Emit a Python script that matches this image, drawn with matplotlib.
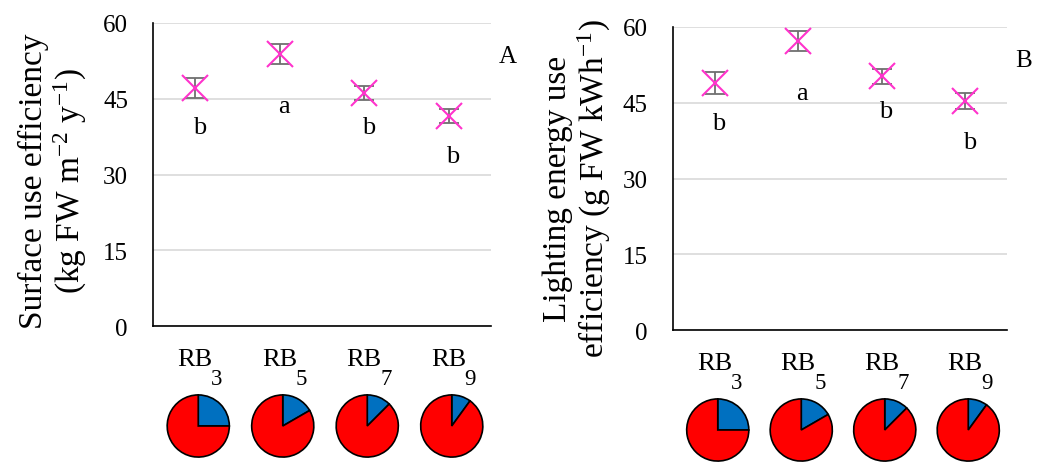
import numpy as np
import matplotlib
matplotlib.use("Agg")
import matplotlib.pyplot as plt

plt.rcParams["font.family"] = ["Liberation Serif", "DejaVu Serif"]
plt.rcParams["mathtext.fontset"] = "custom"
plt.rcParams["mathtext.rm"] = "Liberation Serif"
plt.rcParams["mathtext.it"] = "Liberation Serif:italic"

# data
categories = ["RB", "RB", "RB", "RB"]
rb_ratio = [3, 5, 7, 9]  # red : blue, also the subscript of each label

sue_mean = [47.1, 53.9, 46.1, 41.6]
sue_err = [2.0, 2.0, 1.4, 1.4]
sue_letters = ["b", "a", "b", "b"]
sue_letter_y = [39.4, 43.6, 39.4, 33.7]

leue_mean = [48.9, 57.2, 50.2, 45.4]
leue_err = [2.2, 2.0, 1.4, 1.6]
leue_letters = ["b", "a", "b", "b"]
leue_letter_y = [41.0, 46.9, 43.4, 37.2]

yticks = [0, 15, 30, 45, 60]

W, H = 1052, 464
fig = plt.figure(figsize=(W / 100, H / 100), dpi=100)


def draw_panel(rect, mean, err, letters, letter_y, ylabel, label_x, label_y, panel):
    ax = fig.add_axes(rect)
    x = np.arange(len(categories))
    ax.errorbar(x, mean, yerr=err, fmt="none", ecolor="#707070",
                elinewidth=1.3, capsize=7, capthick=1.3, zorder=3)
    ax.plot(x, mean, linestyle="none", marker="x", markersize=19,
            markeredgewidth=1.5, color="#ff33cc", zorder=4)
    for xi, lt, ly in zip(x, letters, letter_y):
        ax.text(xi + 0.05, ly, lt, ha="center", va="center", fontsize=19)

    ax.set_xlim(-0.5, 3.5)
    ax.set_ylim(0, 60)
    ax.set_yticks(yticks)
    ax.set_xticks(x)
    ax.set_xticklabels([])
    ax.tick_params(axis="y", length=0, pad=18, labelsize=18)
    ax.tick_params(axis="x", length=0)
    ax.yaxis.grid(True, color="#d9d9d9", linewidth=1.2)
    ax.set_axisbelow(True)
    for s in ["top", "right"]:
        ax.spines[s].set_visible(False)
    for s in ["left", "bottom"]:
        ax.spines[s].set_color("black")
        ax.spines[s].set_linewidth(1.2)

    # category labels with a deep subscript
    for xi, name, sub in zip(x, categories, rb_ratio):
        ax.annotate(name, xy=(xi, 0), xycoords=("data", "axes fraction"),
                    xytext=(0, -28), textcoords="offset points",
                    ha="center", va="baseline", fontsize=19)
        ax.annotate(str(sub), xy=(xi, 0), xycoords=("data", "axes fraction"),
                    xytext=(11.5, -41.5), textcoords="offset points",
                    ha="left", va="baseline", fontsize=16.5)

    ax.set_ylabel(ylabel, fontsize=24, linespacing=1.1)
    ax.yaxis.set_label_coords(label_x, label_y)
    ax.text(1.05, 0.89, panel, transform=ax.transAxes, fontsize=18,
            ha="center", va="center")

    # pies below each category
    r = 32
    for xi, ratio in zip(x, rb_ratio):
        px, _ = ax.transData.transform((xi, 0))
        _, py = ax.transAxes.transform((0, 0))
        cx = px + 3
        cy = py - 100
        pax = fig.add_axes([(cx - r) / W, (cy - r) / H, 2 * r / W, 2 * r / H])
        pax.pie([1, ratio], colors=["#0070c0", "#ff0000"], startangle=90,
                counterclock=False,
                wedgeprops=dict(edgecolor="black", linewidth=1.2))
        pax.set_xlim(-1.03, 1.03)
        pax.set_ylim(-1.03, 1.03)
        pax.set_aspect("equal")
    return ax


draw_panel([153 / W, 1 - 327 / H, 338 / W, 303 / H], sue_mean, sue_err,
           sue_letters, sue_letter_y,
           "Surface use efficiency\n(kg FW m$^{-2}$ y$^{-1}$)",
           -0.19, 0.48, "A")
draw_panel([673 / W, 1 - 331 / H, 334 / W, 303 / H], leue_mean, leue_err,
           leue_letters, leue_letter_y,
           "Lighting energy use\nefficiency (g FW kWh$^{-1}$)",
           -0.18, 0.47, "B")

fig.savefig("out.png", dpi=100)
